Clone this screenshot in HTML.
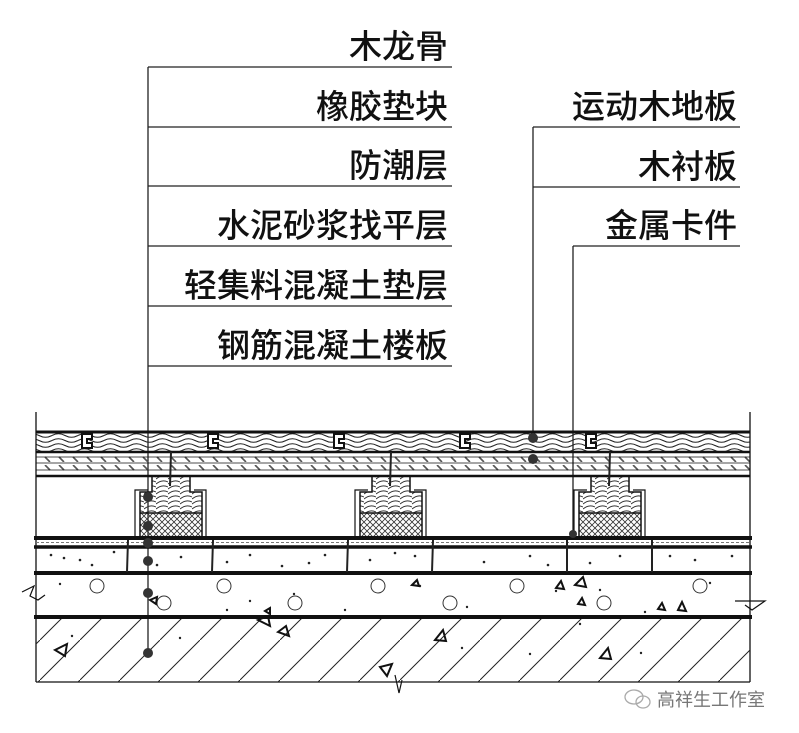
<!DOCTYPE html>
<html><head><meta charset="utf-8"><style>
html,body{margin:0;padding:0;background:#fff;}
svg{display:block}
text{font-family:"Liberation Sans","Noto Sans CJK SC",sans-serif;fill:#111;}
</style></head><body>
<svg width="799" height="733" viewBox="0 0 799 733" xmlns="http://www.w3.org/2000/svg">
<defs>
<pattern id="wood" x="0" y="433" width="26" height="5" patternUnits="userSpaceOnUse">
<path d="M0,2.5 Q6.5,-1 13,2.5 T26,2.5" fill="none" stroke="#222" stroke-width="1"/>
</pattern>
<pattern id="dash" x="0" y="0" width="14" height="8" patternUnits="userSpaceOnUse">
<path d="M3,1 L8,6" stroke="#555" stroke-width="1.6"/>
</pattern>
<pattern id="cross" width="6" height="6" patternUnits="userSpaceOnUse">
<path d="M0,0 L6,6 M6,0 L0,6" stroke="#333" stroke-width="0.8"/>
</pattern>
<pattern id="diag" width="40" height="40" patternUnits="userSpaceOnUse">
<path d="M0,40 L40,0" stroke="#222" stroke-width="1"/>
</pattern>
<pattern id="jwood" width="12" height="5" patternUnits="userSpaceOnUse">
<path d="M0,4 Q6,-1 12,2" fill="none" stroke="#333" stroke-width="0.9"/>
</pattern>
</defs>

<g stroke="#222" stroke-width="1.3" fill="none">
<line x1="148" y1="67" x2="452" y2="67"/>
<line x1="148" y1="127" x2="452" y2="127"/>
<line x1="148" y1="186" x2="452" y2="186"/>
<line x1="148" y1="246" x2="452" y2="246"/>
<line x1="148" y1="306" x2="452" y2="306"/>
<line x1="148" y1="366" x2="452" y2="366"/>
<line x1="148" y1="67" x2="148" y2="655"/>
<line x1="533" y1="127" x2="740" y2="127"/>
<line x1="533" y1="187" x2="740" y2="187"/>
<line x1="573" y1="246" x2="740" y2="246"/>
<line x1="533" y1="127" x2="533" y2="440"/>
<line x1="573" y1="246" x2="573" y2="535"/>
</g>
<g font-size="33" text-anchor="end" style="font-weight:500">
<text x="448" y="58">木龙骨</text>
<text x="448" y="118">橡胶垫块</text>
<text x="448" y="177">防潮层</text>
<text x="448" y="237">水泥砂浆找平层</text>
<text x="448" y="297">轻集料混凝土垫层</text>
<text x="448" y="357">钢筋混凝土楼板</text>
<text x="737" y="118">运动木地板</text>
<text x="737" y="178">木衬板</text>
<text x="737" y="237">金属卡件</text>
</g>

<rect x="36" y="433" width="714" height="18" fill="url(#wood)"/>
<rect x="36" y="455" width="714" height="7" fill="url(#dash)"/>
<rect x="36" y="465" width="714" height="7" fill="url(#dash)"/>
<g stroke="#111" fill="none">
<line x1="36" y1="412" x2="36" y2="682" stroke-width="1.3"/>
<line x1="750" y1="412" x2="750" y2="682" stroke-width="1.3"/>
<line x1="36" y1="432" x2="750" y2="432" stroke-width="3"/>
<line x1="36" y1="452" x2="750" y2="452" stroke-width="2.5"/>
<line x1="36" y1="457" x2="750" y2="457" stroke-width="0.8"/>
<line x1="36" y1="463" x2="750" y2="463" stroke-width="0.8"/>
<line x1="36" y1="470" x2="750" y2="470" stroke-width="0.8"/>
<line x1="36" y1="476" x2="750" y2="476" stroke-width="2.5"/>
<line x1="34" y1="538" x2="752" y2="538" stroke-width="4"/>
<line x1="34" y1="547" x2="752" y2="547" stroke-width="3.5"/>
<line x1="34" y1="573" x2="752" y2="573" stroke-width="4"/>
<line x1="34" y1="617" x2="752" y2="617" stroke-width="4"/>
<line x1="36" y1="682" x2="750" y2="682" stroke-width="1.3"/>
</g>
<line x1="36" y1="542.5" x2="750" y2="542.5" stroke="#777" stroke-width="1" stroke-dasharray="3,2"/>
<g stroke="#111" stroke-width="2" fill="#fff">
<path d="M82,434 h10 v5 h-5 v4 h5 v5 h-10 z"/>
<path d="M208,434 h10 v5 h-5 v4 h5 v5 h-10 z"/>
<path d="M334,434 h10 v5 h-5 v4 h5 v5 h-10 z"/>
<path d="M460,434 h10 v5 h-5 v4 h5 v5 h-10 z"/>
<path d="M586,434 h10 v5 h-5 v4 h5 v5 h-10 z"/>
</g>
<rect x="36" y="619" width="714" height="63" fill="url(#diag)"/>

<g>
<g id="j1">
<rect x="152" y="477" width="38" height="15" fill="url(#jwood)"/>
<rect x="140" y="492" width="62" height="21" fill="url(#jwood)"/>
<rect x="140" y="513" width="62" height="23" fill="url(#cross)"/>
<path d="M152,477 V492 H140 V536 M190,477 V492 H202 V536" fill="none" stroke="#111" stroke-width="1.5"/>
<path d="M135,536 V490 H148 M206,536 V490 H194" fill="none" stroke="#111" stroke-width="1.2"/>
<line x1="140" y1="513" x2="202" y2="513" stroke="#111" stroke-width="1.5"/>
<line x1="171" y1="452" x2="170" y2="486" stroke="#222" stroke-width="2"/>
</g>
<use href="#j1" x="220"/>
<use href="#j1" x="439"/>
</g>

<g stroke="#222" stroke-width="2">
<line x1="128" y1="540" x2="127" y2="572"/>
<line x1="213" y1="540" x2="212" y2="572"/>
<line x1="348" y1="540" x2="347" y2="572"/>
<line x1="433" y1="540" x2="432" y2="572"/>
<line x1="567" y1="540" x2="567" y2="572"/>
<line x1="652" y1="540" x2="652" y2="572"/>
</g>
<g fill="#222">
<circle cx="51" cy="555" r="1.3"/><circle cx="64" cy="558" r="1.3"/><circle cx="80" cy="560" r="1.3"/><circle cx="92" cy="565" r="1.3"/><circle cx="114" cy="552" r="1.3"/><circle cx="181" cy="557" r="1.3"/><circle cx="157" cy="565" r="1.3"/><circle cx="227" cy="562" r="1.3"/><circle cx="250" cy="555" r="1.3"/><circle cx="282" cy="566" r="1.3"/><circle cx="309" cy="563" r="1.3"/><circle cx="325" cy="555" r="1.3"/><circle cx="370" cy="560" r="1.3"/><circle cx="395" cy="553" r="1.3"/><circle cx="415" cy="556" r="1.3"/><circle cx="484" cy="562" r="1.3"/><circle cx="530" cy="556" r="1.3"/><circle cx="548" cy="565" r="1.3"/><circle cx="590" cy="563" r="1.3"/><circle cx="620" cy="556" r="1.3"/><circle cx="670" cy="556" r="1.3"/><circle cx="695" cy="560" r="1.3"/><circle cx="732" cy="556" r="1.3"/>
<circle cx="60" cy="584" r="1.2"/><circle cx="250" cy="601" r="1.2"/><circle cx="227" cy="610" r="1.2"/><circle cx="294" cy="594" r="1.2"/><circle cx="345" cy="610" r="1.2"/><circle cx="420" cy="586" r="1.2"/><circle cx="467" cy="607" r="1.2"/><circle cx="556" cy="591" r="1.2"/><circle cx="600" cy="590" r="1.2"/><circle cx="645" cy="612" r="1.2"/><circle cx="710" cy="583" r="1.2"/><circle cx="72" cy="636" r="1.2"/><circle cx="180" cy="638" r="1.2"/><circle cx="462" cy="648" r="1.2"/><circle cx="530" cy="654" r="1.2"/><circle cx="641" cy="653" r="1.2"/><circle cx="580" cy="624" r="1.2"/>
</g>
<g fill="#fff" stroke="#333" stroke-width="1">
<circle cx="97" cy="586" r="7"/><circle cx="224" cy="586" r="7"/><circle cx="164" cy="603" r="7"/><circle cx="295" cy="603" r="7"/><circle cx="378" cy="586" r="7"/><circle cx="517" cy="586" r="7"/><circle cx="450" cy="603" r="7"/><circle cx="604" cy="603" r="7"/><circle cx="700" cy="586" r="7"/>
</g>
<g fill="none" stroke="#111" stroke-width="2">
<path d="M55,650 l12,-6 l-2,12 z"/>
<path d="M278,632 l8,-6 l3,10 z"/>
<path d="M258,620 l10,-4 l2,10 z"/>
<path d="M435,640 l8,-10 l3,11 z"/>
<path d="M600,658 l8,-10 l3,11 z"/>
<path d="M556,588 l5,-7 l3,8 z"/>
<path d="M575,585 l8,-8 l3,10 z"/>
<path d="M578,604 l4,-6 l3,7 z"/>
<path d="M412,585 l5,-5 l2,6 z"/>
<path d="M150,600 l7,-3 l-1,7 z"/>
<path d="M265,611 l5,-3 l0,6 z"/>
<path d="M658,609 l4,-6 l3,7 z"/>
<path d="M678,610 l4,-8 l4,9 z"/>
<path d="M380,667 l12,-3 l-5,12 z"/>
</g>
<g stroke="#111" stroke-width="1.2" fill="none">
<path d="M22,592 L34,586 L30,596 L38,600 L45,595"/>
<path d="M735,601 L765,601 L752,610 L745,605"/>
<path d="M395,675 L399,693 L402,680"/>
</g>
<g fill="#333">
<circle cx="148" cy="497" r="5"/><circle cx="148" cy="526" r="5"/><circle cx="148" cy="543" r="5"/><circle cx="148" cy="561" r="5"/><circle cx="148" cy="593" r="5"/><circle cx="148" cy="653" r="5"/>
<circle cx="533" cy="438" r="5"/><circle cx="533" cy="459" r="5"/><circle cx="573" cy="534" r="4"/>
</g>
<g stroke="#aaa" fill="none" stroke-width="1.3">
<ellipse cx="634" cy="697" rx="9" ry="7"/><ellipse cx="643" cy="702" rx="7" ry="6"/>
</g>
<text x="657" y="706" font-size="18" style="fill:#777">高祥生工作室</text>
</svg>
</body></html>
